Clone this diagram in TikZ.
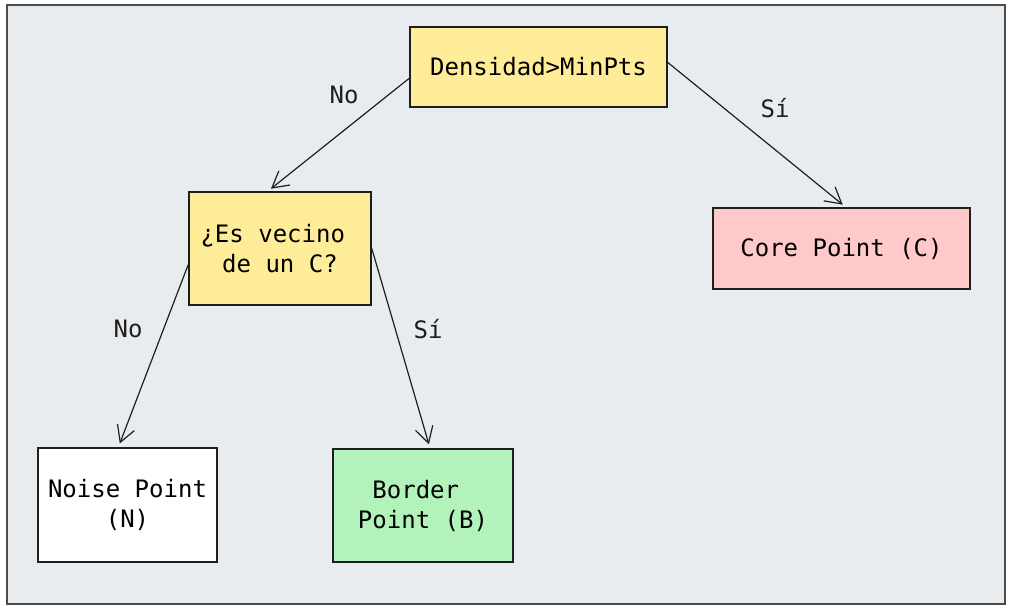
\documentclass[tikz,border=0pt]{standalone}
\usepackage{fontspec}
\setmonofont{DejaVu Sans Mono}
\usetikzlibrary{arrows.meta}
\definecolor{framefill}{HTML}{E9ECEF}
\definecolor{inkline}{HTML}{1E1E1E}
\definecolor{askfill}{HTML}{FFEC99}
\definecolor{corefill}{HTML}{FFC9C9}
\definecolor{borderfill}{HTML}{B2F2BB}
\tikzset{
  box/.style={draw=inkline, line width=0.8pt, align=center, inner sep=0pt,
              font=\ttfamily\fontsize{12}{15}\selectfont},
  askbox/.style={box, fill=askfill},
  corebox/.style={box, fill=corefill},
  noisebox/.style={box, fill=white},
  borderbox/.style={box, fill=borderfill},
  link/.style={draw=inkline, line width=0.6pt, shorten >=2pt,
               -{Straight Barb[length=8pt, width=9pt, line width=0.6pt]}},
  answer/.style={font=\ttfamily\fontsize{12}{15}\selectfont, text=inkline},
}
\begin{document}
\begin{tikzpicture}[x=0.5pt, y=-0.5pt]
    \useasboundingbox (0,0) rectangle (1016,612);
    \draw[fill=framefill, draw=inkline!80, line width=0.7pt] (7,5) rectangle (1005,604);
    \node[askbox, minimum width=128.5pt, minimum height=40pt] (dens) at (538.5,67) {Densidad>MinPts};
    \node[askbox, minimum width=91pt, minimum height=56.5pt] (vecino) at (280,248.5) {¿Es vecino\hphantom{x}\\de un C?};
    \node[corebox, minimum width=128.5pt, minimum height=40.5pt] (core) at (841.5,248.5) {Core Point (C)};
    \node[noisebox, minimum width=89.5pt, minimum height=57pt] (noise) at (127.5,505) {Noise Point\\(N)};
    \node[borderbox, minimum width=90pt, minimum height=56.5pt] (border) at (423,505.5) {Border\hphantom{x}\\Point (B)};
    \draw[link] (dens.185) -- (vecino.102);
    \draw[link] (dens.2) -- (core.84);
    \draw[link] (vecino.190) -- (noise.99);
    \draw[link] (vecino.0) -- (border.83);
    \node[answer] (no1) at (344,95) {No};
    \node[answer] (si1) at (775,108) {Sí};
    \node[answer] (no2) at (128,329) {No};
    \node[answer] (si2) at (428,329) {Sí};
  \end{tikzpicture}
\end{document}
